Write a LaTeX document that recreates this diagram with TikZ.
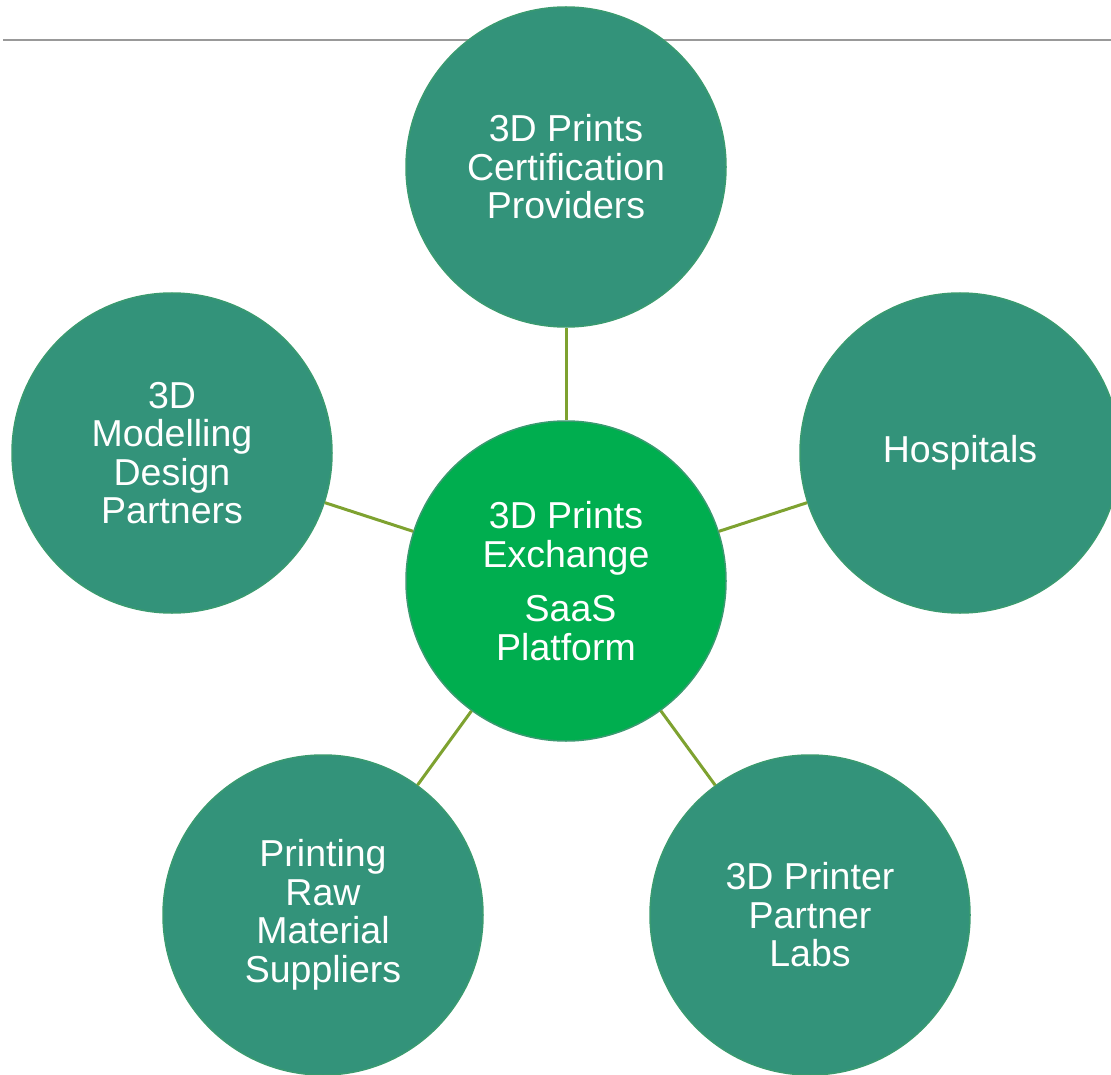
\documentclass[tikz,border=0pt]{standalone}
\usepackage{fontspec}
\setmainfont{Liberation Sans}
\usetikzlibrary{positioning}
\definecolor{partnergreen}{HTML}{33937A}
\definecolor{hubgreen}{HTML}{00AE4F}
\definecolor{rimgreen}{HTML}{3A9A70}
\definecolor{linkolive}{HTML}{7EA230}
\begin{document}
\begin{tikzpicture}[x=1pt,y=-1pt,
    partner/.style={draw=rimgreen,line width=1.5pt,circle,fill=partnergreen,minimum size=320pt,inner sep=0pt,
        text=white,align=center,font=\fontsize{37.5}{38.5}\selectfont},
    hub/.style={partner,fill=hubgreen},
    link/.style={draw=linkolive,line width=3pt}]
        \useasboundingbox (0,0) rectangle (1111,1075);
        \draw[gray!80,line width=2pt] (3,40) -- (1111,40);
        \node[hub] (hub) at (566,581) {3D Prints\\Exchange\\[16pt]\hspace{9pt}SaaS\\Platform};
        \node[partner] (cert) at (566,167) {3D Prints\\Certification\\Providers};
        \node[partner] (design) at (172,453) {3D\\Modelling\\Design\\Partners};
        \node[partner] (hosp) at (960,453) {Hospitals};
        \node[partner] (raw) at (323,915) {Printing\\Raw\\Material\\Suppliers};
        \node[partner] (labs) at (810,915) {3D Printer\\Partner\\Labs};
        \draw[link] (hub) -- (cert);
        \draw[link] (hub) -- (design);
        \draw[link] (hub) -- (hosp);
        \draw[link] (hub) -- (raw);
        \draw[link] (hub) -- (labs);
    \end{tikzpicture}
\end{document}
